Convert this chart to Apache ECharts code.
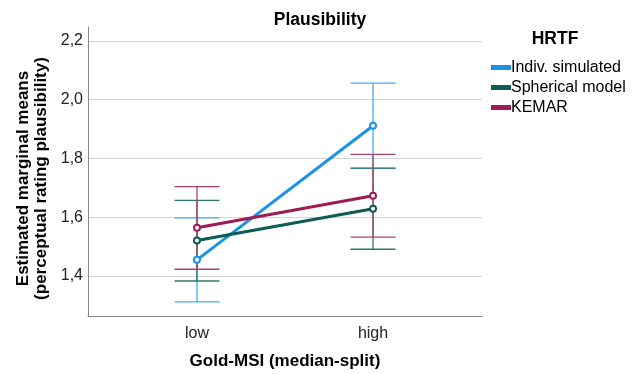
<!DOCTYPE html>
<html>
<head>
<meta charset="utf-8">
<script src="https://cdn.jsdelivr.net/npm/echarts@6/dist/echarts.min.js"></script>
<style>html,body{margin:0;padding:0;background:#fff}#c{width:636px;height:374px}</style>
</head>
<body>
<div id="c"></div>
<script>
// ---- data ----
const categories = ['low', 'high'];
const seriesNames = ['Indiv. simulated', 'Spherical model', 'KEMAR'];
const indivMean = [1.455, 1.911];
const indivLo   = [1.312, 1.766];
const indivHi   = [1.598, 2.056];
const sphMean   = [1.521, 1.629];
const sphLo     = [1.383, 1.491];
const sphHi     = [1.657, 1.767];
const kemMean   = [1.564, 1.673];
const kemLo     = [1.423, 1.532];
const kemHi     = [1.704, 1.814];

const colors    = ['#1a93e6', '#0d5c56', '#9e1b55'];
const barColors = ['#4aa8ec', '#2f7670', '#ad3f6d'];
const means = [indivMean, sphMean, kemMean];
const los = [indivLo, sphLo, kemLo];
const his = [indivHi, sphHi, kemHi];

const chart = echarts.init(document.getElementById('c'), null, {renderer: 'canvas'});
const FONT = '"Liberation Sans", Arial, sans-serif';

const series = [];
seriesNames.forEach(function (name, s) {
  const data = categories.map(function (c, i) { return [i, los[s][i], his[s][i]]; });
  series.push({
    type: 'custom',
    name: name + ' CI',
    z: 2,
    silent: true,
    data: data,
    renderItem: function (params, api) {
      const x = api.value(0);
      const lo = api.coord([x, api.value(1)]);
      const hi = api.coord([x, api.value(2)]);
      const hw = 22.5;
      const st = {stroke: barColors[s], lineWidth: 1.3};
      return {
        type: 'group',
        children: [
          {type: 'line', shape: {x1: lo[0], y1: lo[1], x2: hi[0], y2: hi[1]}, style: st},
          {type: 'line', shape: {x1: lo[0] - hw, y1: lo[1], x2: lo[0] + hw, y2: lo[1]}, style: st},
          {type: 'line', shape: {x1: hi[0] - hw, y1: hi[1], x2: hi[0] + hw, y2: hi[1]}, style: st}
        ]
      };
    }
  });
});
seriesNames.forEach(function (name, s) {
  series.push({
    type: 'line',
    name: name,
    z: 5,
    data: categories.map(function (c, i) { return [i, means[s][i]]; }),
    symbol: 'emptyCircle',
    symbolSize: 6,
    lineStyle: {color: colors[s], width: 3},
    itemStyle: {color: colors[s], borderColor: colors[s], borderWidth: 1},
    emphasis: {disabled: true}
  });
});

chart.setOption({
  animation: false,
  textStyle: {fontFamily: FONT},
  title: [
    {text: 'Plausibility', left: 320, top: 11, textAlign: 'center', padding: 0,
     textStyle: {fontFamily: FONT, fontSize: 17.5, fontWeight: 'bold', color: '#000'}},
    {text: 'HRTF', left: 555, top: 30, textAlign: 'center', padding: 0,
     textStyle: {fontFamily: FONT, fontSize: 17.5, fontWeight: 'bold', color: '#000'}}
  ],
  legend: {
    orient: 'vertical',
    left: 491,
    top: 59,
    padding: 0,
    itemWidth: 18,
    itemHeight: 3,
    itemGap: 3,
    icon: 'rect',
    data: seriesNames.map(function (n, s) { return {name: n, itemStyle: {color: colors[s]}}; }),
    textStyle: {fontFamily: FONT, fontSize: 16, color: '#000', lineHeight: 17, padding: [0, 0, 0, -4]},
    selectedMode: false
  },
  grid: {left: 88, right: 154, top: 27, bottom: 58, containLabel: false, outerBoundsMode: 'none'},
  xAxis: {
    type: 'value',
    min: -0.619,
    max: 1.619,
    name: 'Gold-MSI (median-split)',
    nameLocation: 'middle',
    nameGap: 37,
    nameTextStyle: {fontFamily: FONT, fontSize: 17, fontWeight: 'bold', color: '#000'},
    axisLine: {show: true, onZero: false, lineStyle: {color: '#888', width: 1}},
    axisTick: {show: false},
    splitLine: {show: false},
    axisLabel: {
      customValues: [0, 1],
      margin: 10,
      fontFamily: FONT, fontSize: 16, color: '#222',
      formatter: function (v) { return categories[Math.round(v)]; }
    }
  },
  yAxis: {
    type: 'value',
    min: 1.264,
    max: 2.247,
    splitNumber: 5,
    name: 'Estimated marginal means\n(perceptual rating plausibility)',
    nameLocation: 'middle',
    nameRotate: 90,
    nameGap: 31,
    nameTextStyle: {fontFamily: FONT, fontSize: 17, fontWeight: 'bold', color: '#000', lineHeight: 18, padding: [0, 14, 0, 0]},
    axisLine: {show: true, onZero: false, lineStyle: {color: '#888', width: 1}},
    axisTick: {show: false},
    splitLine: {show: true, showMinLine: false, showMaxLine: false, lineStyle: {color: '#d4d4d4', width: 1}},
    axisLabel: {
      showMinLabel: false, showMaxLabel: false,
      margin: 5,
      fontFamily: FONT, fontSize: 16, color: '#222',
      formatter: function (v) { return v.toFixed(1).replace('.', ','); }
    }
  },
  series: series
});
</script>
</body>
</html>
